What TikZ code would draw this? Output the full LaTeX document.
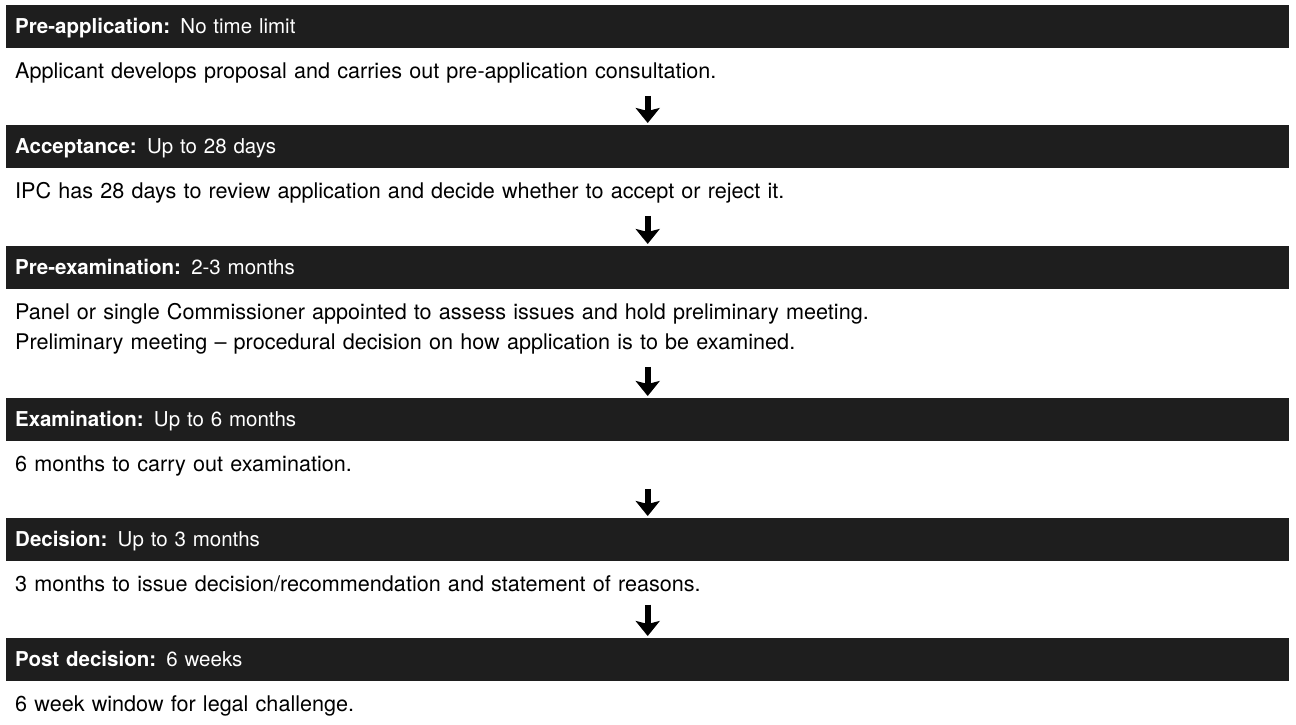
\documentclass[tikz,border=0pt]{standalone}
\usepackage{fontspec}
\setmainfont{TeX Gyre Heros}
\usetikzlibrary{arrows.meta}
\definecolor{barblack}{RGB}{30,30,30}

\tikzset{
  stagebar/.style={fill=barblack, text=white, anchor=north west,
    minimum width=1283pt, minimum height=43pt, text width=1265pt, align=left,
    inner xsep=9pt, inner ysep=0pt, text height=18pt, text depth=4pt,
    font=\fontsize{20.5pt}{30pt}\selectfont},
  stagetext/.style={anchor=base west, text width=1265pt, align=left, inner sep=0pt,
    font=\fontsize{21.6pt}{30pt}\selectfont},
  flowarrow/.style={line width=6pt, -{Stealth[length=15pt,width=24pt,inset=3pt]},
    shorten <=13pt, shorten >=2pt}
}

\begin{document}
\begin{tikzpicture}[x=1pt, y=-1pt]
  \useasboundingbox (0,0) rectangle (1296,724);
  % stages
  \foreach \i/\ytop/\stage/\dur/\desc in {
    1/5/Pre-application/No time limit/{Applicant develops proposal and carries out pre-application consultation.},
    2/125/Acceptance/Up to 28 days/{IPC has 28 days to review application and decide whether to accept or reject it.},
    3/246/Pre-examination/2-3 months/{Panel or single Commissioner appointed to assess issues and hold preliminary meeting.\\Preliminary meeting -- procedural decision on how application is to be examined.},
    4/398/Examination/Up to 6 months/{6 months to carry out examination.},
    5/518/Decision/Up to 3 months/{3 months to issue decision/recommendation and statement of reasons.},
    6/638/Post decision/6 weeks/{6 week window for legal challenge.}}{
    \node[stagebar] (bar\i) at (6,\ytop) {\textbf{\stage:} \dur};
    \node[stagetext] (txt\i) at (15,\ytop+73) {\desc};
  }
  % arrows between stages
  \foreach \i [count=\j from 2] in {1,...,5}
    \draw[flowarrow] (txt\i.south) -- (bar\j.north);
\end{tikzpicture}
\end{document}
